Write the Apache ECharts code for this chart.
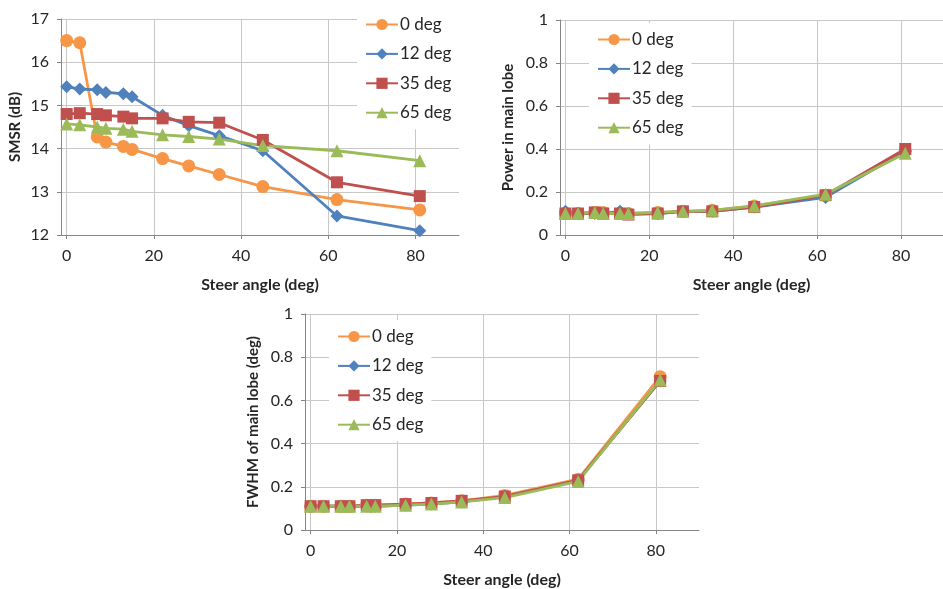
<!DOCTYPE html>
<html>
<head>
<meta charset="utf-8">
<script src="https://cdn.jsdelivr.net/npm/echarts@6/dist/echarts.min.js"></script>
<style>html,body{margin:0;background:#fff}#chart{width:943px;height:589px}</style>
</head>
<body>
<div id="chart"></div>
<script>
// steer angle (deg) for every measured point
const steerAngle = [0, 3, 7, 9, 13, 15, 22, 28, 35, 45, 62, 81];
const seriesNames = ['0 deg', '12 deg', '35 deg', '65 deg'];

const smsr0  = [16.5, 16.45, 14.27, 14.15, 14.05, 13.98, 13.77, 13.6, 13.4, 13.12, 12.82, 12.58];
const smsr12 = [15.43, 15.38, 15.36, 15.3, 15.27, 15.2, 14.77, 14.53, 14.3, 13.95, 12.44, 12.1];
const smsr35 = [14.8, 14.82, 14.8, 14.77, 14.74, 14.7, 14.7, 14.62, 14.6, 14.2, 13.22, 12.9];
const smsr65 = [14.57, 14.55, 14.5, 14.47, 14.45, 14.4, 14.32, 14.28, 14.22, 14.07, 13.95, 13.72];

const power0  = [0.10, 0.10, 0.105, 0.105, 0.10, 0.10, 0.105, 0.11, 0.115, 0.135, 0.185, 0.39];
const power12 = [0.11, 0.10, 0.10, 0.10, 0.11, 0.10, 0.10, 0.11, 0.11, 0.13, 0.175, 0.39];
const power35 = [0.10, 0.10, 0.105, 0.10, 0.10, 0.095, 0.10, 0.11, 0.11, 0.13, 0.185, 0.40];
const power65 = [0.10, 0.10, 0.105, 0.10, 0.10, 0.10, 0.105, 0.11, 0.115, 0.135, 0.19, 0.38];

const fwhm0  = [0.11, 0.11, 0.11, 0.11, 0.115, 0.115, 0.12, 0.125, 0.135, 0.16, 0.235, 0.71];
const fwhm12 = [0.11, 0.11, 0.11, 0.11, 0.11, 0.11, 0.115, 0.12, 0.13, 0.155, 0.23, 0.69];
const fwhm35 = [0.11, 0.11, 0.11, 0.11, 0.115, 0.115, 0.12, 0.125, 0.135, 0.155, 0.23, 0.69];
const fwhm65 = [0.11, 0.11, 0.11, 0.11, 0.11, 0.11, 0.115, 0.12, 0.13, 0.15, 0.225, 0.695];

const xTicks = [0, 20, 40, 60, 80];

const colors = ['#F79646', '#4F81BD', '#C0504D', '#9BBB59'];
const symbols = ['circle', 'diamond', 'rect', 'triangle'];
const symbolSizes = [13, 13, 12, 13];
const font = 'Lato, "Open Sans", sans-serif';

function pairs(arr) {
  return steerAngle.map((x, i) => [x, arr[i]]);
}

function xAxis(idx) {
  return {
    type: 'value', gridIndex: idx, min: -1.3, max: 90,
    name: 'Steer angle (deg)', nameLocation: 'middle', nameGap: 42,
    nameTextStyle: { fontFamily: font, fontWeight: 'bold', fontSize: 16, color: '#262626' },
    axisLine: { onZero: false, lineStyle: { color: '#868686' } },
    axisTick: { show: true, length: 4, customValues: xTicks, lineStyle: { color: '#868686' } },
    axisLabel: { customValues: xTicks, fontFamily: font, fontSize: 16, color: '#262626', margin: 13 },
    splitLine: { show: true, lineStyle: { color: '#c8c8c8', width: 1 } }
  };
}

function yAxis(idx, min, max, interval, name, gap) {
  return {
    type: 'value', gridIndex: idx, min: min, max: max, interval: interval,
    name: name, nameLocation: 'middle', nameRotate: 90, nameGap: gap,
    nameTextStyle: { fontFamily: font, fontWeight: 'bold', fontSize: 15, color: '#262626' },
    axisLine: { show: true, onZero: false, lineStyle: { color: '#868686' } },
    axisTick: { show: true, length: 4, lineStyle: { color: '#868686' } },
    axisLabel: { fontFamily: font, fontSize: 16, color: '#262626', margin: 12 },
    splitLine: { show: true, lineStyle: { color: '#c8c8c8', width: 1 } }
  };
}

function legend(left, top) {
  return {
    data: seriesNames, orient: 'vertical', left: left, top: top,
    itemWidth: 32, itemHeight: 14, itemGap: 12.4,
    backgroundColor: '#fff', padding: [8, 8, 8, 8],
    textStyle: { fontFamily: font, fontSize: 17, color: '#262626', padding: [0, 0, 0, -3] }
  };
}

const groups = [[smsr0, smsr12, smsr35, smsr65], [power0, power12, power35, power65], [fwhm0, fwhm12, fwhm35, fwhm65]];
const series = [];
groups.forEach((g, gi) => {
  g.forEach((arr, si) => {
    series.push({
      name: seriesNames[si], type: 'line', xAxisIndex: gi, yAxisIndex: gi,
      data: pairs(arr), symbol: symbols[si], symbolSize: symbolSizes[si],
      lineStyle: { width: 2.8, color: colors[si] },
      itemStyle: { color: colors[si] },
      animation: false
    });
  });
});

let myChart = echarts.init(document.getElementById('chart'));
let option = {
  backgroundColor: '#fff',
  color: colors,
  grid: [
    { left: 61, right: 484, top: 19, bottom: 354 },
    { left: 560, right: -12, top: 20, bottom: 354 },
    { left: 305, right: 244, top: 314, bottom: 59 }
  ],
  xAxis: [xAxis(0), xAxis(1), xAxis(2)],
  yAxis: [
    yAxis(0, 12, 17, 1, 'SMSR (dB)', 38),
    yAxis(1, 0, 1, 0.2, 'Power in main lobe', 44),
    yAxis(2, 0, 1, 0.2, 'FWHM of main lobe (deg)', 44)
  ],
  legend: [legend(357, 8), legend(589, 23), legend(329, 320)],
  series: series
};
myChart.setOption(option);
</script>
</body>
</html>
